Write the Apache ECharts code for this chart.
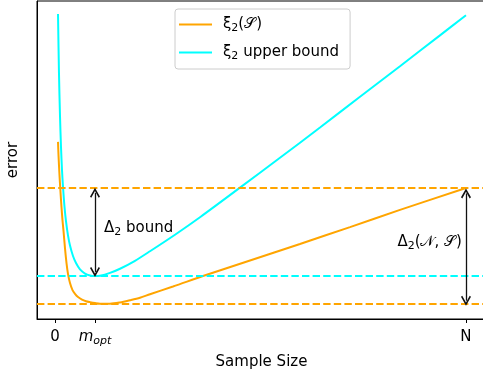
<!DOCTYPE html>
<html>
<head>
<meta charset="utf-8">
<script src="https://cdn.jsdelivr.net/npm/echarts@6/dist/echarts.min.js"></script>
<style>html,body{margin:0;padding:0;background:#fff}#c{width:483px;height:376px}</style>
</head>
<body>
<div id="c"></div>
<script>
// ---- data ----
const N = 1000;
const mOpt = 97.3;
const tickValues = [0, mOpt, N];
const tickLabels = ['{n|0}', '{i|m}{s|opt}', '{n|N}'];
const seriesNames = ['ξ₂(𝒮)', 'ξ₂ upper bound'];
const legendLabels = ['{a|ξ}{b|2}{a|(𝒮)}', '{a|ξ}{b|2}{a| upper bound}'];
const annotBound = '{a|Δ}{b|2}{a| bound}';
const annotN = '{a|Δ}{b|2}{a|(𝒩, 𝒮)}';

const xiX = [7.3, 8.5, 10.9, 13.4, 15.8, 18.2, 20.7, 24.3, 28.0, 31.6, 36.5, 42.6, 48.7, 56.0, 65.7, 75.4, 85.2, 97.3, 109.5, 121.7, 133.8, 158.2, 182.5, 206.8, 231.1, 287.1, 360.1, 474.5, 596.1, 717.8, 839.4, 1000];
const xiY = [5.57, 5.16, 4.53, 3.99, 3.52, 3.11, 2.77, 2.23, 1.76, 1.42, 1.13, 0.91, 0.79, 0.69, 0.61, 0.56, 0.53, 0.50, 0.48, 0.48, 0.48, 0.52, 0.59, 0.67, 0.78, 1.02, 1.35, 1.84, 2.36, 2.89, 3.43, 4.12];

const ubX = [7.3, 9.7, 12.2, 14.6, 17.0, 19.5, 23.1, 26.8, 31.6, 36.5, 43.8, 51.1, 60.8, 73.0, 85.2, 97.3, 109.5, 133.8, 158.2, 194.6, 231.1, 292.0, 352.8, 450.1, 547.4, 644.8, 742.1, 839.4, 936.7, 1000];
const ubY = [9.59, 7.72, 6.37, 5.41, 4.69, 4.15, 3.53, 3.07, 2.63, 2.31, 1.98, 1.76, 1.56, 1.43, 1.37, 1.35, 1.36, 1.45, 1.58, 1.83, 2.13, 2.65, 3.20, 4.13, 5.07, 6.02, 6.99, 7.95, 8.92, 9.55];

const levelXiN = 4.12;     // xi2 at N (orange dashed, top)
const levelUbMin = 1.35;   // upper bound minimum (cyan dashed)
const levelXiMin = 0.48;   // xi2 minimum (orange dashed, bottom)

const arrowBound = [3.97, 1.48];   // Delta2 bound arrow (at m_opt)
const arrowN = [3.95, 0.575];      // Delta2(N,S) arrow (at N)
const textBound = [119, 2.86];
const textN = [990, 2.42];

// ---- chart ----
const chart = echarts.init(document.getElementById('c'), null, {renderer: 'canvas'});
const orange = '#FFA500', cyan = '#00FFFF', dark = '#111111';
const font = 'DejaVu Sans';
const fs = 15;
const head = 'path://M0,0 L5,8 L3.7,9 L0,3 L-3.7,9 L-5,8 Z';

function zip(a, b) { return a.map((v, i) => [v, b[i]]); }
function hline(y, color) {
  return {yAxis: y, lineStyle: {color: color, width: 2, type: [7.4, 3.2]}};
}
function subRich(lh) {
  return {
    a: {fontFamily: font, fontSize: fs, color: '#000', lineHeight: lh, verticalAlign: 'middle'},
    b: {fontFamily: font, fontSize: 11, color: '#000', lineHeight: lh, verticalAlign: 'bottom'}
  };
}

chart.setOption({
  animation: false,
  textStyle: {fontFamily: font},
  grid: {left: 37, top: 1, right: -3, bottom: 57, outerBoundsMode: 'none', containLabel: false,
         show: true, borderColor: '#000', borderWidth: 1, backgroundColor: 'transparent'},
  legend: {
    orient: 'vertical', left: 175, top: 9,
    icon: 'rect', itemWidth: 33, itemHeight: 2, itemGap: 11,
    padding: [8, 11, 7, 4],
    borderColor: '#cccccc', borderWidth: 1, borderRadius: 3,
    backgroundColor: 'rgba(255,255,255,0.8)',
    formatter: function (name) { return legendLabels[seriesNames.indexOf(name)]; },
    textStyle: {fontFamily: font, fontSize: fs, color: '#000', padding: [0, 0, 0, 6], rich: subRich(19)},
    data: seriesNames
  },
  xAxis: {
    type: 'value', min: -43.8, max: 1048.7,
    name: 'Sample Size', nameLocation: 'middle', nameGap: 36,
    nameTextStyle: {fontFamily: font, fontSize: fs, color: '#000'},
    axisLine: {show: true, onZero: false, lineStyle: {color: '#000', width: 1}},
    axisTick: {show: true, customValues: tickValues, length: 4, lineStyle: {color: '#000'}},
    axisLabel: {
      show: true, customValues: tickValues, margin: 8,
      fontFamily: font, fontSize: fs, color: '#000',
      formatter: function (v) { const i = tickValues.indexOf(v); return i >= 0 ? tickLabels[i] : ''; },
      rich: {
        n: {fontFamily: font, fontSize: fs, color: '#000', lineHeight: 20, verticalAlign: 'middle'},
        i: {fontFamily: font, fontSize: fs, fontStyle: 'italic', color: '#000', lineHeight: 20, verticalAlign: 'middle'},
        s: {fontFamily: font, fontSize: 11, fontStyle: 'italic', color: '#000', lineHeight: 20, verticalAlign: 'bottom'}
      }
    },
    splitLine: {show: false}
  },
  yAxis: {
    type: 'value', min: 0, max: 10,
    name: 'error', nameLocation: 'middle', nameGap: 16,
    nameTextStyle: {fontFamily: font, fontSize: fs, color: '#000'},
    axisLine: {show: true, onZero: false, lineStyle: {color: '#000', width: 1}},
    axisTick: {show: false}, axisLabel: {show: false}, splitLine: {show: false}
  },
  series: [
    {
      name: seriesNames[0], type: 'line', data: zip(xiX, xiY), symbol: 'none', smooth: 0.3,
      lineStyle: {color: orange, width: 2}, itemStyle: {color: orange}, z: 3
    },
    {
      name: seriesNames[1], type: 'line', data: zip(ubX, ubY), symbol: 'none', smooth: 0.3,
      lineStyle: {color: cyan, width: 2}, itemStyle: {color: cyan}, z: 3,
    },
    {
      type: 'line', data: [], symbol: 'none', silent: true,
      markLine: {
        silent: true, symbol: 'none', label: {show: false}, animation: false,
        data: [hline(levelXiN, orange), hline(levelUbMin, cyan), hline(levelXiMin, orange)]
      },
      z: 2
    },
    {
      type: 'line', data: [], symbol: 'none', silent: true,
      markLine: {
        silent: true, symbol: [head, head], symbolSize: [10, 10], label: {show: false}, animation: false,
        lineStyle: {color: dark, width: 1.3, type: 'solid'},
        itemStyle: {color: dark},
        data: [
          [{coord: [mOpt, arrowBound[0]]}, {coord: [mOpt, arrowBound[1]]}],
          [{coord: [N, arrowN[0]]}, {coord: [N, arrowN[1]]}]
        ]
      },
      z: 4
    },
    {
      type: 'scatter', symbolSize: 0, silent: true,
      itemStyle: {opacity: 1, color: '#000'},
      data: [
        {value: textBound, label: {show: true, position: 'right', distance: 0, color: '#000', formatter: annotBound, rich: subRich(20)}},
        {value: textN, label: {show: true, position: 'left', distance: 0, color: '#000', formatter: annotN, rich: subRich(20)}}
      ],
      z: 5
    }
  ]
});
</script>
</body>
</html>
